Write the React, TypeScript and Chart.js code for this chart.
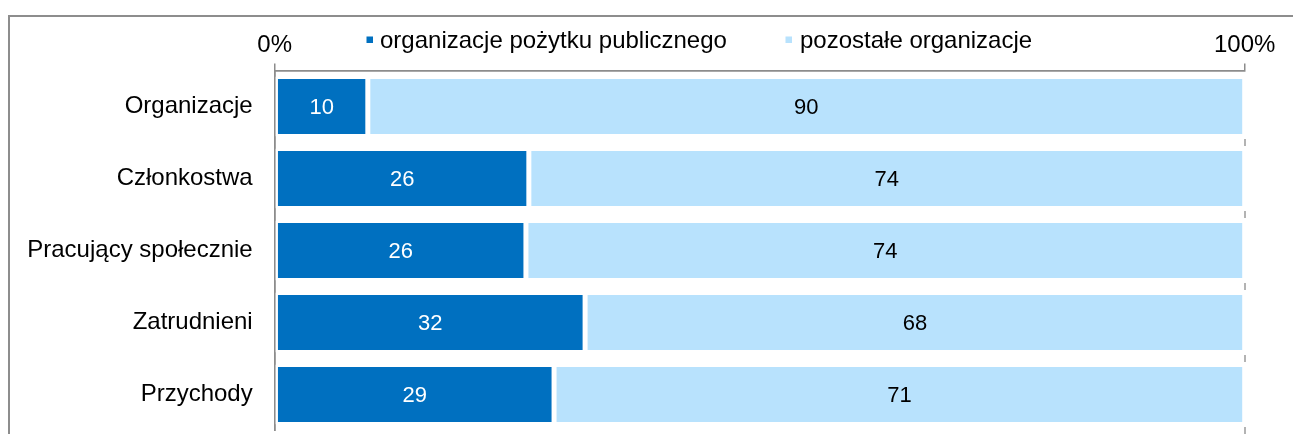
import React, { useEffect, useRef } from "react";
import { Chart, registerables } from "chart.js";

Chart.register(...registerables);

const categories = ["Organizacje", "Członkostwa", "Pracujący społecznie", "Zatrudnieni", "Przychody"];
const seriesLabels = ["organizacje pożytku publicznego", "pozostałe organizacje"];
const oppValues = [9.6, 26.2, 25.9, 32.0, 28.8];
const otherValues = [90.4, 73.8, 74.1, 68.0, 71.2];
const xTickLabels = ["0%", "100%"];

const DARK = "#0070C0";
const LIGHT = "#B8E2FD";
const AXIS = "#8c8c8c";
const FONT = "'Liberation Sans', Arial, sans-serif";

const dataLabelPlugin = {
  id: "dataLabels",
  afterDatasetsDraw(chart: any) {
    const ctx = chart.ctx;
    ctx.save();
    ctx.font = `22px ${FONT}`;
    ctx.textAlign = "center";
    ctx.textBaseline = "middle";
    chart.data.datasets.forEach((ds: any, di: number) => {
      const meta = chart.getDatasetMeta(di);
      meta.data.forEach((el: any, i: number) => {
        const p = el.getProps(["x", "y", "base"], true);
        ctx.fillStyle = di === 0 ? "#ffffff" : "#000000";
        ctx.fillText(String(Math.round(ds.data[i])), (p.x + p.base) / 2, p.y + 1);
      });
    });
    ctx.restore();
  },
};

const decorPlugin = {
  id: "decor",
  afterDraw(chart: any) {
    const ctx = chart.ctx;
    const area = chart.chartArea;
    const n = chart.data.labels.length;
    const band = (area.bottom - area.top) / n;
    ctx.save();
    ctx.strokeStyle = "#9a9a9a";
    ctx.lineWidth = 1.5;
    for (let i = 1; i <= n; i++) {
      const y = area.top + band * i;
      ctx.beginPath();
      ctx.moveTo(area.right + 0.3, y - 3.5);
      ctx.lineTo(area.right + 0.3, y + 3.5);
      ctx.stroke();
    }
    // legend
    const legendPos = [
      { mx: 366.5, tx: 380 },
      { mx: 785.5, tx: 800 },
    ];
    ctx.font = `24px ${FONT}`;
    ctx.textAlign = "left";
    ctx.textBaseline = "alphabetic";
    chart.data.datasets.forEach((ds: any, di: number) => {
      const pos = legendPos[di];
      ctx.fillStyle = ds.backgroundColor;
      ctx.fillRect(pos.mx, 36.5, 6.5, 6.5);
      ctx.fillStyle = "#000000";
      ctx.fillText(ds.label, pos.tx, 48);
    });
    ctx.restore();
  },
};

export default function App() {
  const ref = useRef<HTMLCanvasElement>(null);
  useEffect(() => {
    if (!ref.current) return;
    const chart = new Chart(ref.current, {
      type: "bar",
      data: {
        labels: categories,
        datasets: [
          {
            label: seriesLabels[0],
            data: oppValues,
            backgroundColor: DARK,
            borderColor: "#ffffff",
            borderWidth: 2.5,
            borderSkipped: false,
            categoryPercentage: 1,
            barPercentage: 0.833,
            inflateAmount: 0,
          },
          {
            label: seriesLabels[1],
            data: otherValues,
            backgroundColor: LIGHT,
            borderColor: "#ffffff",
            borderWidth: 2.5,
            borderSkipped: false,
            categoryPercentage: 1,
            barPercentage: 0.833,
            inflateAmount: 0,
          },
        ],
      },
      options: {
        indexAxis: "y",
        responsive: false,
        animation: false,
        devicePixelRatio: 1,
        layout: { padding: { left: 0, top: 0, right: 48.3, bottom: 3.5 } },
        plugins: {
          legend: { display: false },
          tooltip: { enabled: false },
          title: { display: false },
        },
        scales: {
          x: {
            position: "top",
            stacked: true,
            min: 0,
            max: 100,
            afterFit: (s: any) => {
              s.height = 70.5;
              s.paddingLeft = 0;
              s.paddingRight = 0;
            },
            afterBuildTicks: (s: any) => {
              s.ticks = [{ value: 0 }, { value: 100 }];
            },
            ticks: {
              callback: (v: any) => (Number(v) === 0 ? xTickLabels[0] : xTickLabels[1]),
              font: { family: FONT, size: 24 },
              color: "#000000",
              padding: 3.5,
              maxRotation: 0,
            },
            grid: {
              drawOnChartArea: false,
              drawTicks: true,
              tickLength: 7,
              color: AXIS,
              lineWidth: 1.5,
            },
            border: { display: true, color: AXIS, width: 1.8 },
          },
          y: {
            stacked: true,
            z: 1,
            afterFit: (s: any) => {
              s.width = 274.7;
              s.paddingTop = 0;
              s.paddingBottom = 0;
            },
            ticks: {
              font: { family: FONT, size: 24 },
              color: "#000000",
              padding: 22,
            },
            grid: { drawOnChartArea: false, drawTicks: false },
            border: { display: true, color: AXIS, width: 1.8 },
          },
        },
      },
      plugins: [dataLabelPlugin, decorPlugin],
    } as any);
    return () => chart.destroy();
  }, []);

  return (
    <div
      style={{
        position: "fixed",
        left: 0,
        top: 0,
        width: 1293,
        height: 434,
        overflow: "hidden",
        background: "#ffffff",
      }}
    >
      <div
        style={{
          position: "absolute",
          left: 8,
          top: 15,
          width: 1400,
          height: 500,
          borderTop: "2px solid #8d8d8d",
          borderLeft: "2px solid #8d8d8d",
        }}
      />
      <canvas
        ref={ref}
        width={1293}
        height={434}
        style={{ position: "absolute", left: 0, top: 0 }}
      />
    </div>
  );
}
